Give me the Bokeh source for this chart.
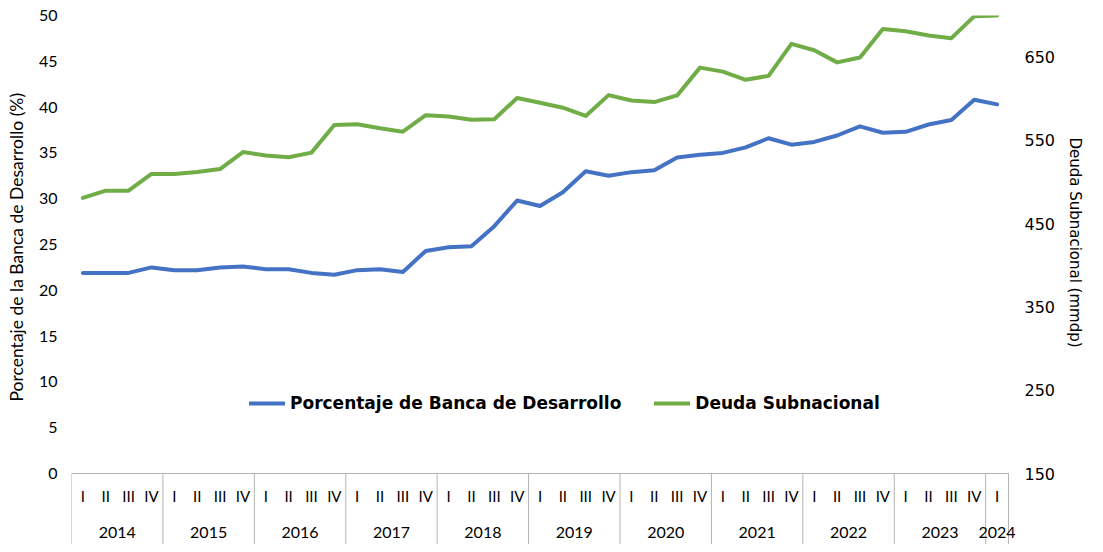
from bokeh.plotting import figure
from bokeh.models import (Range1d, LinearAxis, FixedTicker, Legend, LegendItem)
from bokeh.core.properties import value
from bokeh.embed import file_html
from bokeh.resources import INLINE

# ---------------- data ----------------
years = ["2014", "2015", "2016", "2017", "2018", "2019", "2020", "2021", "2022", "2023", "2024"]
quarters_per_year = [4, 4, 4, 4, 4, 4, 4, 4, 4, 4, 1]
quarter_names = ["I", "II", "III", "IV"]

banca_desarrollo = [21.9, 21.9, 21.9, 22.5,
                    22.2, 22.2, 22.5, 22.6,
                    22.3, 22.3, 21.9, 21.7,
                    22.2, 22.3, 22.0, 24.3,
                    24.7, 24.8, 27.0, 29.8,
                    29.2, 30.7, 33.0, 32.5,
                    32.9, 33.1, 34.5, 34.8,
                    35.0, 35.6, 36.6, 35.9,
                    36.2, 36.9, 37.9, 37.2,
                    37.3, 38.1, 38.6, 40.8,
                    40.3]
deuda_subnacional = [481.0, 489.6, 489.6, 509.7,
                     509.7, 512.0, 515.6, 536.0,
                     532.0, 529.8, 535.3, 568.4,
                     569.5, 564.5, 560.5, 580.3,
                     578.7, 574.7, 575.5, 601.0,
                     595.3, 589.3, 579.4, 604.4,
                     598.0, 596.0, 604.0, 637.4,
                     632.6, 622.8, 627.5, 666.0,
                     658.3, 643.7, 649.6, 683.9,
                     681.0, 676.0, 672.8, 699.0,
                     700.0]
left_ticks = [0, 5, 10, 15, 20, 25, 30, 35, 40, 45, 50]
right_ticks = [150, 250, 350, 450, 550, 650]
left_title = "Porcentaje de la Banca de Desarrollo (%)"
right_title = "Deuda Subnacional (mmdp)"

# ---------------- derived categories ----------------
q_labels, q_x, year_x, bounds_x = [], [], [], []
idx = 0
for y, n in zip(years, quarters_per_year):
    bounds_x.append(idx - 0.5)
    year_x.append(idx + (n - 1) / 2)
    for k in range(n):
        q_labels.append(quarter_names[k])
        q_x.append(idx)
        idx += 1
bounds_x.append(idx - 0.5)
xs = list(range(idx))

# ---------------- layout constants ----------------
W, H = 1087, 544
B_LEFT, B_TOP = 71, 15
BOX_RIGHT = 1010                  # pixel column of the category box's right edge
FRAME_RIGHT = 1020
B_RIGHT = W - FRAME_RIGHT
ZERO_Y = 473                      # pixel row of value 0
PX_PER_UNIT = (ZERO_Y - B_TOP) / 50.0
y_top = 50.0
y_bot = -(H - ZERO_Y) / PX_PER_UNIT
r_scale = (700 - 150) / 50.0
r_bot = 150 + y_bot * r_scale
px_per_x = (BOX_RIGHT - B_LEFT) / idx
x_end = (idx - 0.5) + (FRAME_RIGHT - BOX_RIGHT) / px_per_x
EMSP = "\u2003"                   # used to lift the axis titles onto the 0..50 band

p = figure(width=W, height=H, output_backend="svg", toolbar_location=None,
           x_range=Range1d(-0.5, x_end), y_range=Range1d(y_bot, y_top),
           x_axis_location=None, min_border_left=B_LEFT, min_border_right=B_RIGHT,
           min_border_top=B_TOP, min_border_bottom=0)
p.outline_line_color = None
p.grid.visible = False
p.extra_y_ranges = {"right": Range1d(r_bot, 700)}

def style_axis(ax):
    ax.axis_line_color = None
    ax.major_tick_line_color = None
    ax.minor_tick_line_color = None
    ax.major_tick_out = 0
    ax.major_tick_in = 0
    ax.minor_tick_out = 0
    ax.minor_tick_in = 0
    ax.major_label_text_color = "#000000"
    ax.axis_label_text_color = "#000000"
    ax.axis_label_text_font_style = "normal"

# left axis
ya = p.yaxis[0]
style_axis(ya)
ya.ticker = FixedTicker(ticks=left_ticks)
ya.major_label_standoff = 14
ya.major_label_text_font = "Lato"
ya.major_label_text_font_size = "16px"
ya.axis_label = EMSP * 5 + left_title
ya.axis_label_text_font = "Lato"
ya.axis_label_text_font_size = "17.5px"
ya.axis_label_standoff = 9

# right axis
ra = LinearAxis(y_range_name="right", ticker=FixedTicker(ticks=right_ticks))
style_axis(ra)
ra.major_label_standoff = 6
ra.major_label_text_font = "DejaVu Sans"
ra.major_label_text_font_size = "16px"
ra.axis_label = right_title + EMSP * 5
ra.axis_label_text_font = "DejaVu Sans"
ra.axis_label_text_font_size = "15px"
ra.axis_label_standoff = 8
p.add_layout(ra, "right")

grey = "#b4b4b4"
# category box
p.segment(x0=[-0.5], y0=[0], x1=[idx - 0.5], y1=[0], line_color=grey, line_width=1)
p.segment(x0=bounds_x, y0=[0] * len(bounds_x), x1=bounds_x, y1=[y_bot] * len(bounds_x),
          line_color=grey, line_width=1)
p.text(x=q_x, y=[-22.7 / PX_PER_UNIT] * len(q_x), text=q_labels, text_align="center",
       text_baseline="middle", text_font=value("Lato"), text_font_size="15px",
       text_color="#000000")
p.text(x=year_x, y=[-59.1 / PX_PER_UNIT] * len(year_x), text=years, text_align="center",
       text_baseline="middle", text_font=value("Lato"), text_font_size="16px",
       text_color="#000000")

# series
r_blue = p.line(xs, banca_desarrollo, line_color="#4472C4", line_width=4,
                line_join="round", line_cap="round")
r_green = p.line(xs, deuda_subnacional, y_range_name="right", line_color="#70AD47",
                 line_width=4, line_join="round", line_cap="round")

legend = Legend(items=[LegendItem(label="Porcentaje de Banca de Desarrollo", renderers=[r_blue]),
                       LegendItem(label="Deuda Subnacional", renderers=[r_green])],
                orientation="horizontal", location=(178, H - 413),
                background_fill_alpha=0, border_line_color=None,
                label_text_font="DejaVu Sans", label_text_font_style="bold",
                label_text_font_size="17px", label_text_color="#000000",
                glyph_width=36, glyph_height=20,
                label_height=20, label_standoff=5, spacing=33, padding=0, margin=0)
p.add_layout(legend)

open("out.html", "w").write(file_html(p, INLINE))
